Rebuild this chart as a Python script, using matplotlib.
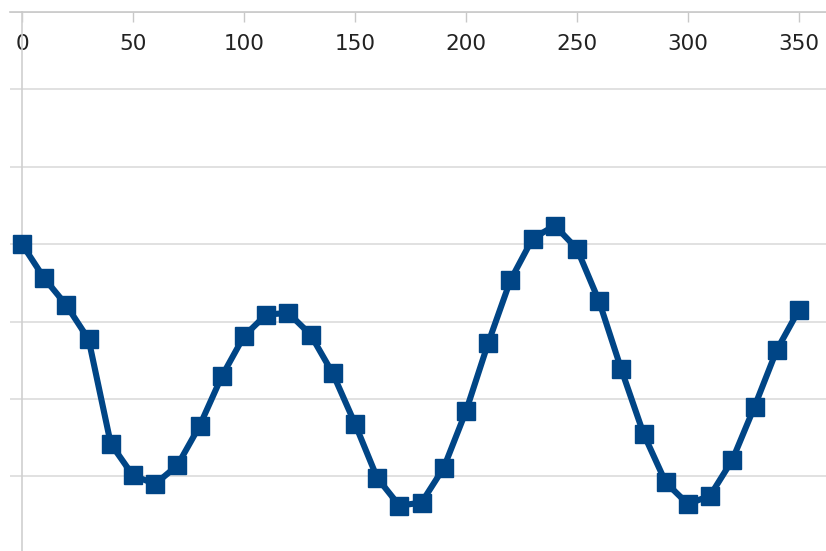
import matplotlib
matplotlib.use("Agg")
import matplotlib.pyplot as plt

# angle (degrees) and measured response, one reading every 10 degrees
angle = [0, 10, 20, 30, 40, 50, 60, 70, 80, 90, 100, 110,
         120, 130, 140, 150, 160, 170, 180, 190, 200, 210, 220, 230,
         240, 250, 260, 270, 280, 290, 300, 310, 320, 330, 340, 350]
response = [0.00, -0.44, -0.79, -1.23, -2.58, -2.99, -3.10, -2.86, -2.35, -1.71, -1.19, -0.91,
            -0.89, -1.17, -1.67, -2.32, -3.02, -3.38, -3.34, -2.89, -2.16, -1.28, -0.47, 0.07,
            0.24, -0.06, -0.74, -1.62, -2.45, -3.08, -3.36, -3.25, -2.79, -2.10, -1.37, -0.85]
xticks = [0, 50, 100, 150, 200, 250, 300, 350]
ygrid = [3, 2, 1, 0, -1, -2, -3]

fig = plt.figure(figsize=(8.26, 5.51), dpi=100)
ax = fig.add_axes([10 / 826, 0.0, 816 / 826, 1 - 12 / 551])

ax.plot(angle, response, color="#004586", linewidth=4.4, marker="s",
        markersize=13.5, solid_joinstyle="round", zorder=3)

ax.set_xlim(-5.4, 362.2)
ax.set_ylim(-3.966, 3)
ax.set_xticks(xticks)
ax.set_yticks(ygrid)
ax.set_yticklabels([])

ax.xaxis.tick_top()
ax.tick_params(axis="x", direction="in", length=7, width=1, color="#c8c8c8",
               labelsize=15.5, labelcolor="#222222", pad=-30)
ax.tick_params(axis="y", length=0)

ax.grid(axis="y", color="#dcdcdc", linewidth=1.2)
ax.grid(axis="x", visible=False)

for side in ["right", "bottom"]:
    ax.spines[side].set_visible(False)
ax.spines["top"].set_color("#c8c8c8")
ax.spines["top"].set_linewidth(1.2)
ax.spines["left"].set_position(("data", 0))
ax.spines["left"].set_color("#d0d0d0")
ax.spines["left"].set_linewidth(1.2)

fig.savefig("out.png", dpi=100)
